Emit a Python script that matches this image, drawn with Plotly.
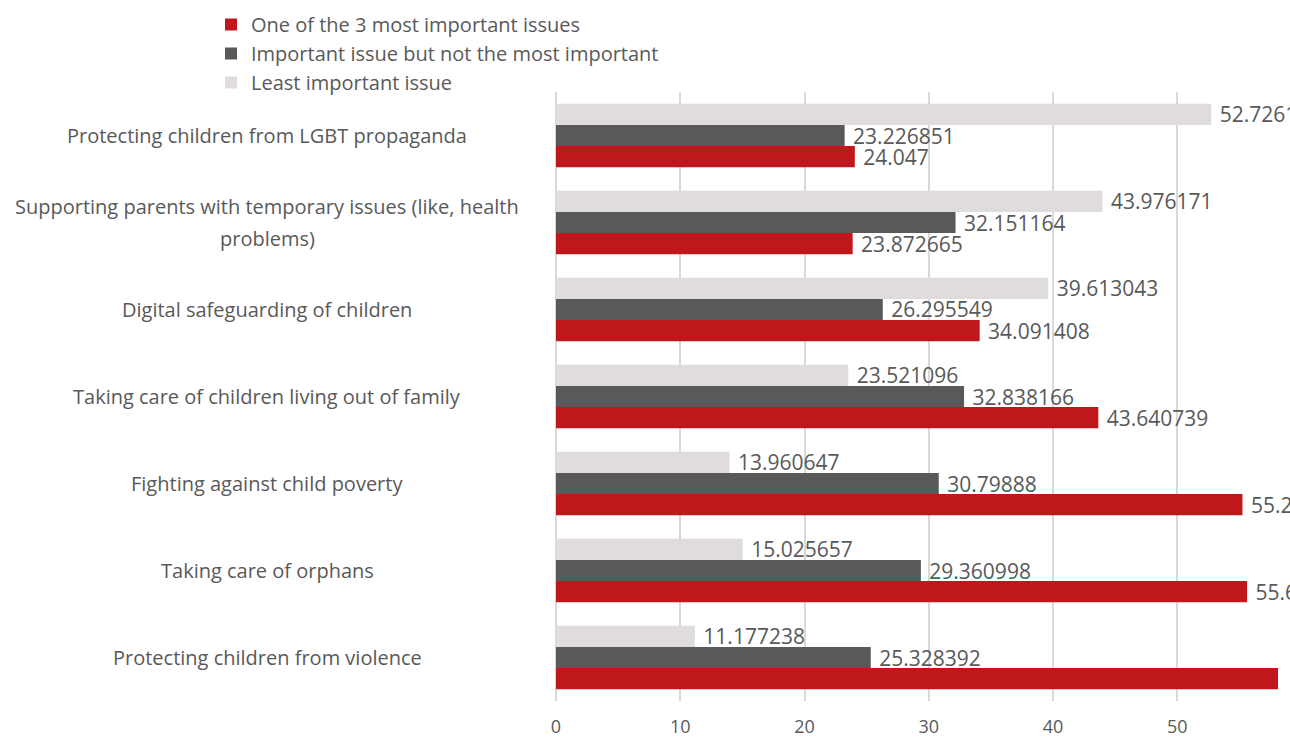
import plotly.graph_objects as go

categories = [
    "Protecting children from LGBT propaganda",
    "Supporting parents with temporary issues (like, health<br>problems)",
    "Digital safeguarding of children",
    "Taking care of children living out of family",
    "Fighting against child poverty",
    "Taking care of orphans",
    "Protecting children from violence",
]
most_important = [24.047, 23.872665, 34.091408, 43.640739, 55.240473, 55.613345, 63.49437]
important_not_most = [23.226851, 32.151164, 26.295549, 32.838166, 30.79888, 29.360998, 25.328392]
least_important = [52.726149, 43.976171, 39.613043, 23.521096, 13.960647, 15.025657, 11.177238]
x_ticks = [0, 10, 20, 30, 40, 50]

series = [
    ("One of the 3 most important issues", most_important, "#C0171C"),
    ("Important issue but not the most important", important_not_most, "#595959"),
    ("Least important issue", least_important, "#E0DCDC"),
]

FONT = "Open Sans"
GRAY = "#595959"

fig = go.Figure()
for i, (name, vals, col) in enumerate(series):
    fig.add_trace(go.Bar(
        y=categories, x=vals, orientation="h", name=name, legendgroup=f"g{i}",
        marker=dict(color=col, line=dict(width=0)),
        text=[str(v) for v in vals], textposition="outside",
        texttemplate=" %{text}",
        textfont=dict(family=FONT, size=21, color=GRAY),
        constraintext="none", cliponaxis=False,
    ))

L, R, T, B = 556, 12, 92, 36
W, H = 1290, 737
for c in categories:
    lines = c.split("<br>")
    n = len(lines)
    for j, ln in enumerate(lines):
        fig.add_annotation(
            x=(267 - L) / (W - L - R), xref="paper", y=c, yref="y",
            text=ln, showarrow=False, xanchor="center", yanchor="middle", align="center",
            yshift=((n - 1) / 2 - j) * 32,
            font=dict(family=FONT, size=20, color=GRAY),
        )

fig.update_layout(
    width=W, height=H,
    margin=dict(l=L, r=R, t=T, b=B, autoexpand=False),
    barmode="group", bargap=0.27, bargroupgap=0.0,
    plot_bgcolor="white", paper_bgcolor="white",
    font=dict(family=FONT, color=GRAY),
    legend=dict(
        xref="container", x=211 / W, xanchor="left",
        yref="container", y=1 - 5 / H, yanchor="top",
        traceorder="normal", font=dict(family=FONT, size=20, color=GRAY),
        bgcolor="rgba(0,0,0,0)", itemwidth=30, tracegroupgap=3,
    ),
    xaxis=dict(
        range=[0, 58.1], tickvals=x_ticks, showgrid=True, gridcolor="#D9D9D9", gridwidth=1.5,
        zeroline=True, zerolinecolor="#D9D9D9", zerolinewidth=1.5, showline=False,
        tickfont=dict(family=FONT, size=18, color=GRAY), ticks="",
        ticklabelstandoff=13, automargin=False,
    ),
    yaxis=dict(
        categoryorder="array", categoryarray=list(reversed(categories)),
        showticklabels=False, showgrid=False, showline=False, ticks="", automargin=False,
    ),
)

fig.write_html("out.html")
